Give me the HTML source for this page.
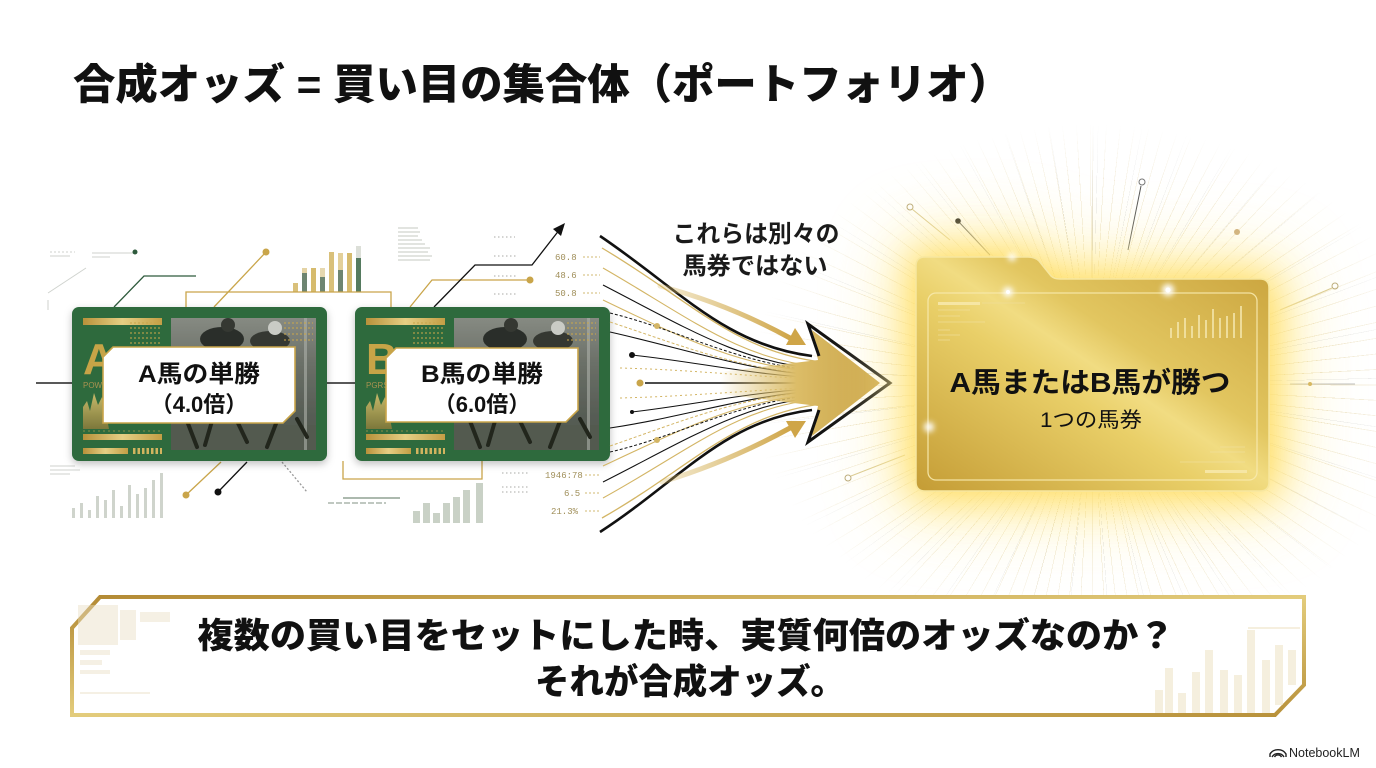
<!DOCTYPE html>
<html><head><meta charset="utf-8">
<style>
html,body{margin:0;padding:0;background:#fff;}
#wrap{position:relative;width:1376px;height:768px;overflow:hidden;background:#fff;}
#rays{position:absolute;left:0;top:0;width:1376px;height:768px;
background:
repeating-conic-gradient(from 0deg at 1092px 385px, rgba(195,160,70,0.5) 0deg 0.16deg, transparent 0.16deg 3.1deg),
repeating-conic-gradient(from 1.3deg at 1092px 385px, rgba(80,80,80,0.3) 0deg 0.12deg, transparent 0.12deg 9.7deg);
-webkit-mask-image:radial-gradient(ellipse 340px 260px at 1092px 385px, #000 45%, rgba(0,0,0,.5) 72%, transparent 100%);
mask-image:radial-gradient(ellipse 340px 260px at 1092px 385px, #000 45%, rgba(0,0,0,.5) 72%, transparent 100%);}
svg{position:absolute;left:0;top:0;}
</style></head><body><div id="wrap">
<div id="rays"></div>
<svg width="1376" height="768" viewBox="0 0 1376 768" font-family="'Liberation Sans','Noto Sans CJK JP',sans-serif">
<defs>
<linearGradient id="gb" x1="0" y1="0" x2="1" y2="0"><stop offset="0" stop-color="#b8913a"/><stop offset=".5" stop-color="#e6cf84"/><stop offset="1" stop-color="#c39e45"/></linearGradient>
<linearGradient id="gv" x1="0" y1="0" x2="0" y2="1"><stop offset="0" stop-color="#e2c772"/><stop offset="1" stop-color="#8a7a3a"/></linearGradient>
<linearGradient id="photo" x1="0" y1="0" x2="0" y2="1"><stop offset="0" stop-color="#868a82"/><stop offset=".35" stop-color="#6a6f67"/><stop offset=".75" stop-color="#565c54"/><stop offset="1" stop-color="#4f574c"/></linearGradient>
<linearGradient id="folder" x1="0" y1="1" x2="1" y2="0"><stop offset="0" stop-color="#c49c35"/><stop offset=".42" stop-color="#e9cf68"/><stop offset=".52" stop-color="#f1dc82"/><stop offset=".62" stop-color="#e2c660"/><stop offset="1" stop-color="#c9a23c"/></linearGradient>
<linearGradient id="arrowG" x1="720" y1="0" x2="890" y2="0" gradientUnits="userSpaceOnUse"><stop offset="0" stop-color="#d9bb68" stop-opacity="0"/><stop offset=".45" stop-color="#dcbd68"/><stop offset="1" stop-color="#c49c3e"/></linearGradient>
<linearGradient id="thickG" x1="0" y1="0" x2="1" y2="0"><stop offset="0" stop-color="#d8b863" stop-opacity=".3"/><stop offset="1" stop-color="#cfa548"/></linearGradient>
<linearGradient id="banner" x1="0" y1="0" x2="1" y2="1"><stop offset="0" stop-color="#b38a34"/><stop offset=".5" stop-color="#e3cc7c"/><stop offset="1" stop-color="#b8913a"/></linearGradient>
<filter id="blur1" x="-50%" y="-50%" width="200%" height="200%"><feGaussianBlur stdDeviation="20"/></filter>
<filter id="blur2" x="-50%" y="-50%" width="200%" height="200%"><feGaussianBlur stdDeviation="36"/></filter>
<filter id="blur3" x="-100%" y="-100%" width="300%" height="300%"><feGaussianBlur stdDeviation="3"/></filter>
<filter id="shadow" x="-10%" y="-10%" width="120%" height="130%"><feDropShadow dx="0" dy="3" stdDeviation="4" flood-color="#000" flood-opacity=".25"/></filter>
<g id="cardbase">
<rect width="255" height="154" rx="7" fill="#2e6b3d"/>
<rect x="11" y="11" width="79" height="7" fill="url(#gb)"/>
<rect x="99" y="11" width="145" height="132" fill="url(#photo)"/>
<rect x="99" y="118" width="145" height="25" fill="#525a4f"/>
<ellipse cx="150" cy="32" rx="22" ry="12" fill="#2a2e29"/>
<circle cx="156" cy="18" r="7" fill="#343832"/>
<ellipse cx="198" cy="34" rx="20" ry="10" fill="#353933"/>
<circle cx="203" cy="21" r="7" fill="#c9cbc5"/>
<rect x="232" y="11" width="3" height="132" fill="#aeb1aa" opacity=".6"/>
<g stroke="#21251f" stroke-width="4" stroke-linecap="round">
<line x1="115" y1="114" x2="125" y2="140"/><line x1="140" y1="114" x2="133" y2="138"/><line x1="165" y1="114" x2="175" y2="135"/><line x1="205" y1="114" x2="195" y2="140"/><line x1="225" y1="112" x2="235" y2="130"/></g>
<g stroke="#c8a64c" stroke-width="1.3" stroke-dasharray="2 2" opacity=".85">
<line x1="58" y1="16" x2="88" y2="16"/><line x1="58" y1="21" x2="88" y2="21"/><line x1="58" y1="26" x2="88" y2="26"/><line x1="58" y1="31" x2="88" y2="31"/><line x1="58" y1="36" x2="88" y2="36"/>
<line x1="212" y1="16" x2="241" y2="16"/><line x1="212" y1="21" x2="241" y2="21"/><line x1="212" y1="27" x2="241" y2="27"/><line x1="212" y1="33" x2="241" y2="33"/></g>
<path d="M11,122 L11,100 L15,94 L18,104 L22,86 L26,98 L30,90 L34,106 L37,122 Z" fill="url(#gv)" opacity=".85"/>
<line x1="11" y1="124" x2="90" y2="124" stroke="#c8a64c" stroke-width="1" stroke-dasharray="2 3" opacity=".6"/>
<rect x="11" y="127" width="79" height="6" fill="url(#gb)"/>
<rect x="11" y="141" width="45" height="6" fill="url(#gb)"/>
<line x1="61" y1="144" x2="90" y2="144" stroke="#d2b45e" stroke-width="6" stroke-dasharray="2.5 2"/>
</g>
</defs>

<!-- title -->
<text x="73" y="99" font-size="42" font-weight="900" fill="#111" textLength="938" lengthAdjust="spacingAndGlyphs">合成オッズ = 買い目の集合体（ポートフォリオ）</text>

<!-- faint background decorations left -->
<g stroke="#c4c8c2" stroke-width="1" fill="none" opacity=".8">
<line x1="50" y1="252" x2="75" y2="252" stroke-dasharray="2 2"/><line x1="92" y1="253" x2="133" y2="253"/>
<line x1="50" y1="256" x2="70" y2="256"/><line x1="92" y1="257" x2="110" y2="257"/>
<line x1="48" y1="293" x2="86" y2="268"/><line x1="48" y1="300" x2="48" y2="310"/>
<line x1="50" y1="466" x2="75" y2="466"/><line x1="50" y1="470" x2="80" y2="470"/><line x1="50" y1="474" x2="70" y2="474"/>
</g>
<circle cx="135" cy="252" r="2.5" fill="#2e5a3c"/>
<g stroke="#d0d3ce" stroke-width="1.2">
<line x1="398" y1="228" x2="418" y2="228"/><line x1="398" y1="232" x2="420" y2="232"/><line x1="398" y1="236" x2="418" y2="236"/><line x1="398" y1="240" x2="422" y2="240"/><line x1="398" y1="244" x2="425" y2="244"/><line x1="398" y1="248" x2="430" y2="248"/><line x1="398" y1="252" x2="428" y2="252"/><line x1="398" y1="256" x2="432" y2="256"/><line x1="398" y1="260" x2="430" y2="260"/></g>
<g stroke="#a9aaa6" stroke-width="1" stroke-dasharray="1.5 2.5">
<line x1="494" y1="237" x2="515" y2="237"/><line x1="494" y1="256" x2="518" y2="256"/><line x1="494" y1="276" x2="518" y2="276"/><line x1="494" y1="294" x2="516" y2="294"/>
<line x1="502" y1="473" x2="528" y2="473"/><line x1="502" y1="487" x2="528" y2="487"/><line x1="502" y1="492" x2="528" y2="492"/></g>

<!-- bar chart between cards -->
<g>
<rect x="293" y="283" width="5" height="9" fill="#d9c07a"/>
<rect x="302" y="273" width="5" height="19" fill="#6e8571"/><rect x="302" y="268" width="5" height="5" fill="#e4d3a4"/>
<rect x="311" y="268" width="5" height="24" fill="#d6bb6e"/>
<rect x="320" y="277" width="5" height="15" fill="#6e8571"/><rect x="320" y="268" width="5" height="9" fill="#e6d8b0"/>
<rect x="329" y="252" width="5" height="40" fill="#d9c07a"/>
<rect x="338" y="270" width="5" height="22" fill="#6e8571"/><rect x="338" y="253" width="5" height="17" fill="#e3d09a"/>
<rect x="347" y="253" width="5" height="39" fill="#d6bb6e"/>
<rect x="356" y="258" width="5" height="34" fill="#557a5f"/><rect x="356" y="246" width="5" height="12" fill="#dcdfd8"/>
</g>
<!-- bars below A -->
<g fill="#cfd4cc">
<rect x="72" y="508" width="3" height="10"/><rect x="80" y="503" width="3" height="15"/><rect x="88" y="510" width="3" height="8"/><rect x="96" y="496" width="3" height="22"/><rect x="104" y="500" width="3" height="18"/><rect x="112" y="490" width="3" height="28"/><rect x="120" y="506" width="3" height="12"/><rect x="128" y="485" width="3" height="33"/><rect x="136" y="494" width="3" height="24"/><rect x="144" y="488" width="3" height="30"/><rect x="152" y="480" width="3" height="38"/><rect x="160" y="473" width="3" height="45"/>
</g>
<!-- bars below B -->
<g fill="#c9d1c6">
<rect x="413" y="511" width="7" height="12"/><rect x="423" y="503" width="7" height="20"/><rect x="433" y="513" width="7" height="10"/><rect x="443" y="503" width="7" height="20"/><rect x="453" y="497" width="7" height="26"/><rect x="463" y="490" width="7" height="33"/><rect x="476" y="483" width="7" height="40"/>
</g>

<!-- connector lines -->
<g fill="none" stroke-width="1.3">
<path d="M186,307 L186,292 L391,292 L391,307" stroke="#c9a54a"/>
<path d="M343,461 L343,479 L482,479 L482,461" stroke="#c9a54a"/>
<path d="M114,307 L144,276 L196,276" stroke="#2e5a3c"/>
<path d="M214,307 L266,252" stroke="#c9a54a"/>
<path d="M247,462 L218,492" stroke="#111"/>
<path d="M221,462 L186,495" stroke="#c9a54a"/>
<path d="M282,462 L307,492" stroke="#999" stroke-dasharray="2 2"/>
<path d="M343,498 L400,498" stroke="#7a8f7e"/>
<path d="M328,503 L386,503" stroke="#9aa79c" stroke-dasharray="6 2"/>
<path d="M410,307 L432,280 L530,280" stroke="#c9a54a"/>
<path d="M434,307 L475,265 L532,265 L560,229" stroke="#111"/>
<path d="M36,383 L72,383 M327,383 L355,383" stroke="#222" stroke-width="1.6"/>
</g>
<polygon points="565,223 553,229 561,236" fill="#111"/>
<circle cx="266" cy="252" r="3.5" fill="#c9a54a"/>
<circle cx="218" cy="492" r="3.5" fill="#111"/>
<circle cx="186" cy="495" r="3.5" fill="#c9a54a"/>
<circle cx="530" cy="280" r="3.5" fill="#c9a54a"/>

<!-- cards -->
<g filter="url(#shadow)"><use href="#cardbase" x="72" y="307"/><use href="#cardbase" x="355" y="307"/></g>
<text x="83" y="374" font-size="44" font-weight="700" fill="#c7a447">A</text>
<text x="83" y="388" font-size="8" fill="#a89250">POWS</text>
<text x="366" y="374" font-size="44" font-weight="700" fill="#c7a447">B</text>
<text x="366" y="388" font-size="8" fill="#a89250">PGRS</text>
<path d="M113,347 L295,347 L295,411 L283,423 L103,423 L103,357 Z" fill="#fff" stroke="#c9a54a" stroke-width="1.6"/>
<path d="M396,348 L578,348 L578,410 L566,422 L386,422 L386,358 Z" fill="#fff" stroke="#c9a54a" stroke-width="1.6"/>
<text x="199" y="382" font-size="24" font-weight="700" fill="#111" text-anchor="middle" textLength="122" lengthAdjust="spacingAndGlyphs">A馬の単勝</text>
<text x="199" y="412" font-size="22" font-weight="700" fill="#111" text-anchor="middle">（4.0倍）</text>
<text x="482" y="382" font-size="24" font-weight="700" fill="#111" text-anchor="middle" textLength="122" lengthAdjust="spacingAndGlyphs">B馬の単勝</text>
<text x="482" y="412" font-size="22" font-weight="700" fill="#111" text-anchor="middle">（6.0倍）</text>

<!-- ticker numbers -->
<g font-family="'Liberation Mono',monospace" font-size="9" fill="#a08f5a">
<text x="555" y="260">60.8</text><text x="555" y="278">48.6</text><text x="555" y="296">50.8</text>
<text x="545" y="478">1946:78</text><text x="564" y="496">6.5</text><text x="551" y="514">21.3%</text></g>
<g stroke="#d2b870" stroke-width="1" stroke-dasharray="2 2">
<line x1="583" y1="257" x2="600" y2="257"/><line x1="583" y1="275" x2="600" y2="275"/><line x1="583" y1="293" x2="600" y2="293"/>
<line x1="585" y1="475" x2="600" y2="475"/><line x1="585" y1="493" x2="600" y2="493"/><line x1="585" y1="511" x2="600" y2="511"/></g>

<!-- fan curves -->
<g fill="none">
<path d="M602,248 C690,300 735,352 822,362" stroke="#d3b565" stroke-width="1.3"/>
<path d="M603,268 C690,318 740,360 822,367" stroke="#d3b565" stroke-width="1.1"/>
<path d="M603,300 C690,342 745,368 824,372" stroke="#d3b565" stroke-width="1.1"/>
<path d="M602,518 C690,468 735,414 822,404" stroke="#d3b565" stroke-width="1.3"/>
<path d="M603,498 C690,450 740,405 822,399" stroke="#d3b565" stroke-width="1.1"/>
<path d="M603,466 C690,425 745,398 824,394" stroke="#d3b565" stroke-width="1.1"/>
<path d="M610,322 C680,345 745,372 828,375" stroke="#d3b565" stroke-width="1" stroke-dasharray="3 2"/>
<path d="M610,446 C680,422 745,394 828,391" stroke="#d3b565" stroke-width="1" stroke-dasharray="3 2"/>
<path d="M620,368 C700,370 760,378 832,379" stroke="#d3b565" stroke-width="1" stroke-dasharray="2 3"/>
<path d="M620,398 C700,396 760,389 832,387" stroke="#d3b565" stroke-width="1" stroke-dasharray="2 3"/>
<path d="M600,236 C680,290 725,345 812,356" stroke="#111" stroke-width="2.6"/>
<path d="M600,532 C680,480 725,420 812,410" stroke="#111" stroke-width="2.6"/>
<path d="M603,285 C690,330 745,364 822,369" stroke="#111" stroke-width="1.1"/>
<path d="M603,482 C690,438 745,402 822,397" stroke="#111" stroke-width="1.1"/>
<path d="M610,313 C680,330 740,365 826,372" stroke="#111" stroke-width="1" stroke-dasharray="3 2"/>
<path d="M610,332 C690,350 750,372 828,376" stroke="#111" stroke-width="1.1"/>
<path d="M632,355 C700,362 760,377 830,378" stroke="#111" stroke-width="1"/>
<path d="M632,412 C700,404 760,390 830,388" stroke="#111" stroke-width="1"/>
<path d="M610,428 C690,416 750,394 828,390" stroke="#111" stroke-width="1.1"/>
<path d="M610,452 C680,436 740,400 826,394" stroke="#111" stroke-width="1" stroke-dasharray="3 2"/>
<path d="M645,383 L836,383" stroke="#111" stroke-width="1.6"/>
</g>
<polygon points="845,383 834,378 834,388" fill="#111"/>
<circle cx="657" cy="326" r="3" fill="#d3b565"/><circle cx="657" cy="440" r="3" fill="#d3b565"/>
<circle cx="632" cy="355" r="3" fill="#111"/><circle cx="640" cy="383" r="3.5" fill="#c9a54a"/><circle cx="632" cy="412" r="2" fill="#111"/>

<!-- thick gold curved arrows -->
<path d="M660,286 Q728,304 790,338" fill="none" stroke="url(#thickG)" stroke-width="5" stroke-linecap="round"/>
<polygon points="806,345 786,345 795,328" fill="#cfa548"/>
<path d="M662,482 Q728,462 790,428" fill="none" stroke="url(#thickG)" stroke-width="5" stroke-linecap="round"/>
<polygon points="806,421 795,438 786,421" fill="#cfa548"/>

<!-- big arrow -->
<path d="M720,372 L818,360 L812,330 L880,383 L812,436 L818,406 L720,394 Z" fill="url(#arrowG)"/>
<path d="M819,356 L808,324 L890,383 L808,442 L819,410" fill="none" stroke="#111" stroke-width="3" stroke-linejoin="miter"/>

<!-- text above arrow -->
<text x="756" y="242" font-size="24" font-weight="700" fill="#1a1a1a" text-anchor="middle" textLength="167" lengthAdjust="spacingAndGlyphs">これらは別々の</text>
<text x="755" y="274" font-size="24" font-weight="700" fill="#1a1a1a" text-anchor="middle" textLength="145" lengthAdjust="spacingAndGlyphs">馬券ではない</text>

<!-- ray dots -->
<g stroke-width="1" fill="none">
<line x1="958" y1="221" x2="990" y2="255" stroke="#555"/>
<circle cx="910" cy="207" r="3" stroke="#b8a878"/><line x1="912" y1="209" x2="950" y2="240" stroke="#d8c890"/>
<circle cx="1142" cy="182" r="3" stroke="#777"/><line x1="1141" y1="186" x2="1128" y2="250" stroke="#555"/>
<circle cx="1335" cy="286" r="3" stroke="#b8a878"/><line x1="1332" y1="288" x2="1280" y2="310" stroke="#d8c890"/>
<circle cx="848" cy="478" r="3" stroke="#b8a878"/><line x1="851" y1="476" x2="905" y2="455" stroke="#d8c890"/>
<line x1="1290" y1="384" x2="1355" y2="384" stroke="#bbb"/>
</g>
<circle cx="958" cy="221" r="2.8" fill="#111"/>
<circle cx="1237" cy="232" r="3" fill="#c9a878"/>
<circle cx="1310" cy="384" r="2" fill="#c9a54a"/>

<!-- glow -->
<path d="M925,257 L1030,257 L1052,280 L1262,280 Q1270,280 1270,290 L1270,484 Q1270,492 1262,492 L924,492 Q916,492 916,484 L916,266 Q916,257 925,257 Z" fill="#fff0a8" stroke="#fff0a8" stroke-width="40" filter="url(#blur2)" opacity=".85"/>
<path d="M925,257 L1030,257 L1052,280 L1262,280 Q1270,280 1270,290 L1270,484 Q1270,492 1262,492 L924,492 Q916,492 916,484 L916,266 Q916,257 925,257 Z" fill="#ffd63e" stroke="#ffe070" stroke-width="16" filter="url(#blur1)" opacity=".9"/>
<!-- folder -->
<path d="M925,257 L1028,257 Q1035,257 1039,261 L1051,276 Q1054,279 1060,279 L1260,279 Q1269,279 1269,288 L1269,482 Q1269,491 1260,491 L925,491 Q916,491 916,482 L916,266 Q916,257 925,257 Z" fill="url(#folder)" stroke="#f7e7a0" stroke-width="1.5"/>
<rect x="928" y="293" width="329" height="187" rx="8" fill="none" stroke="#f7e9ac" stroke-width="1.3" opacity=".9"/>
<rect x="938" y="302" width="42" height="3" fill="#f6e6a4"/>
<line x1="982" y1="303" x2="1025" y2="303" stroke="#efdc96" stroke-width=".7"/>
<g stroke="#f1e0a0" stroke-width=".8" opacity=".8">
<line x1="938" y1="310" x2="970" y2="310"/><line x1="938" y1="316" x2="960" y2="316"/><line x1="938" y1="322" x2="985" y2="322"/><line x1="938" y1="330" x2="950" y2="330"/><line x1="938" y1="335" x2="960" y2="335"/><line x1="938" y1="340" x2="950" y2="340"/>
<line x1="1220" y1="447" x2="1245" y2="447"/><line x1="1210" y1="452" x2="1245" y2="452"/><line x1="1180" y1="462" x2="1245" y2="462"/></g>
<rect x="1205" y="470" width="42" height="3" fill="#f6e6a4"/>
<g stroke="#f3e4a8" stroke-width="2" opacity=".85">
<line x1="1171" y1="338" x2="1171" y2="328"/><line x1="1178" y1="338" x2="1178" y2="322"/><line x1="1185" y1="338" x2="1185" y2="318"/><line x1="1192" y1="338" x2="1192" y2="326"/><line x1="1199" y1="338" x2="1199" y2="315"/><line x1="1206" y1="338" x2="1206" y2="320"/><line x1="1213" y1="338" x2="1213" y2="309"/><line x1="1220" y1="338" x2="1220" y2="318"/><line x1="1227" y1="338" x2="1227" y2="316"/><line x1="1234" y1="338" x2="1234" y2="313"/><line x1="1241" y1="338" x2="1241" y2="306"/></g>
<circle cx="1008" cy="292" r="5" fill="#fff" filter="url(#blur3)"/><circle cx="1008" cy="292" r="2" fill="#fff"/>
<circle cx="1168" cy="290" r="6" fill="#fff" filter="url(#blur3)"/><circle cx="1168" cy="290" r="2.5" fill="#fff"/>
<circle cx="929" cy="427" r="5" fill="#fff" filter="url(#blur3)"/><circle cx="1012" cy="257" r="4" fill="#fff" filter="url(#blur3)"/>
<text x="1090" y="392" font-size="28" font-weight="700" fill="#111" text-anchor="middle" textLength="281" lengthAdjust="spacingAndGlyphs">A馬またはB馬が勝つ</text>
<text x="1091" y="427" font-size="21" fill="#111" text-anchor="middle" textLength="102" lengthAdjust="spacingAndGlyphs">1つの馬券</text>

<!-- bottom banner -->
<path d="M100,597 L1304,597 L1304,685 L1275,715 L72,715 L72,628 Z" fill="#fff" stroke="url(#banner)" stroke-width="4"/>
<g fill="#e9dfc4" opacity=".45">
<rect x="78" y="605" width="40" height="40"/><rect x="120" y="610" width="16" height="30"/><rect x="140" y="612" width="30" height="10"/>
<rect x="80" y="650" width="30" height="5"/><rect x="80" y="660" width="22" height="5"/><rect x="80" y="670" width="30" height="4"/><rect x="80" y="692" width="70" height="2"/>
</g>
<g fill="#eee2c4" opacity=".55">
<rect x="1155" y="690" width="8" height="23"/><rect x="1165" y="668" width="8" height="45"/><rect x="1178" y="693" width="8" height="20"/><rect x="1192" y="672" width="8" height="41"/><rect x="1205" y="650" width="8" height="63"/><rect x="1220" y="670" width="8" height="43"/><rect x="1234" y="675" width="8" height="38"/><rect x="1247" y="630" width="8" height="83"/><rect x="1262" y="660" width="8" height="53"/><rect x="1275" y="645" width="8" height="60"/><rect x="1288" y="650" width="8" height="35"/>
<rect x="1248" y="627" width="52" height="2"/></g>
<text x="686" y="648" font-size="35" font-weight="900" fill="#111" text-anchor="middle" textLength="977" lengthAdjust="spacingAndGlyphs">複数の買い目をセットにした時、実質何倍のオッズなのか？</text>
<text x="690" y="694" font-size="35" font-weight="900" fill="#111" text-anchor="middle" textLength="310" lengthAdjust="spacingAndGlyphs">それが合成オッズ。</text>

<!-- NotebookLM logo -->
<g fill="none" stroke="#222" stroke-width="1.4">
<path d="M1272,757 A7,7 0 0 1 1284,757"/><path d="M1274.5,757 A4,4 0 0 1 1281.5,757"/><path d="M1270,757 L1270,754 A9,8 0 0 1 1286,754 L1286,757"/></g>
<text x="1289" y="757" font-size="12.5" fill="#222" font-family="'Liberation Sans',sans-serif">NotebookLM</text>
</svg>
</div></body></html>
